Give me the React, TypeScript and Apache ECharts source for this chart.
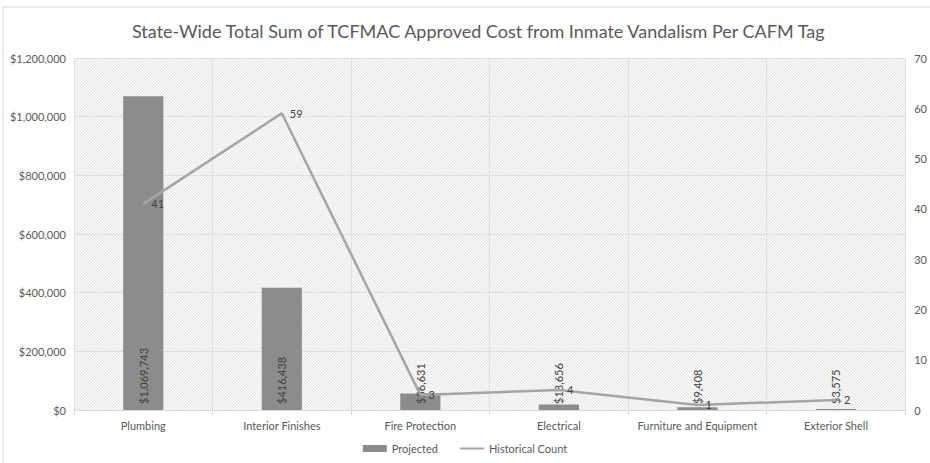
import React, { useEffect, useRef } from "react";
import * as echarts from "echarts";

const categories = ["Plumbing", "Interior Finishes", "Fire Protection", "Electrical", "Furniture and Equipment", "Exterior Shell"];
const projected = [1069743, 416438, 56631, 18656, 9408, 3575];
const historicalCount = [41, 59, 3, 4, 1, 2];
const titleText = "State-Wide Total Sum of TCFMAC Approved Cost from Inmate Vandalism Per CAFM Tag";

const FONT = "Lato, 'Open Sans', sans-serif";

function makePattern(): HTMLCanvasElement {
  const c = document.createElement("canvas");
  c.width = 6;
  c.height = 6;
  const ctx = c.getContext("2d")!;
  ctx.fillStyle = "#f8f8f8";
  ctx.fillRect(0, 0, 6, 6);
  ctx.strokeStyle = "#e4e4e4";
  ctx.lineWidth = 1;
  ctx.beginPath();
  for (let k = -6; k <= 12; k += 3) {
    ctx.moveTo(k, 0);
    ctx.lineTo(k + 6, 6);
  }
  ctx.stroke();
  return c;
}

const fmtMoney = (v: number) => "$" + Math.round(v).toLocaleString("en-US");

const lineIcon =
  "path://M0,0L0.01,0L0.01,0.01Z M0,2.5L24,2.5L24,4.5L0,4.5Z M23.99,7L24,7L24,6.99Z";

export default function App() {
  const ref = useRef<HTMLDivElement>(null);
  useEffect(() => {
    document.body.style.margin = "0";
    if (!ref.current) return;
    const chart = echarts.init(ref.current, null, { renderer: "svg" });
    let bg: any = "#f0f0f0";
    try {
      bg = { image: makePattern(), repeat: "repeat" };
    } catch (e) {
      bg = "#f0f0f0";
    }
    chart.setOption({
      animation: false,
      backgroundColor: "#ffffff",
      title: {
        text: titleText,
        left: 127,
        top: 17,
        textStyle: { fontFamily: FONT, fontSize: 18, fontWeight: "normal", color: "#595959" },
      },
      graphic: [
        {
          type: "rect",
          shape: { x: 3, y: 7, width: 940, height: 470 },
          style: { fill: "none", stroke: "#d9d9d9", lineWidth: 1 },
          silent: true,
          z: -1,
        },
      ],
      grid: {
        left: 74,
        right: 18,
        top: 58,
        bottom: 53,
        show: true,
        backgroundColor: bg,
        borderWidth: 0,
      },
      legend: {
        bottom: 4,
        left: "center",
        itemGap: 22,
        itemWidth: 24,
        itemHeight: 7,
        textStyle: { fontFamily: FONT, fontSize: 11, color: "#595959" },
        data: [
          { name: "Projected", icon: "rect" },
          { name: "Historical Count", icon: lineIcon },
        ],
      },
      xAxis: {
        type: "category",
        data: categories,
        axisLine: { lineStyle: { color: "#d9d9d9", width: 1 } },
        axisTick: { show: true, length: 5, lineStyle: { color: "#d9d9d9" } },
        axisLabel: { interval: 0, fontFamily: FONT, fontSize: 11, color: "#595959", margin: 10 },
        splitLine: { show: true, interval: 0, lineStyle: { color: "#e0e0e0", width: 1 } },
      },
      yAxis: [
        {
          type: "value",
          min: 0,
          max: 1200000,
          interval: 200000,
          axisLine: { show: false },
          axisTick: { show: false },
          axisLabel: { fontFamily: FONT, fontSize: 11, color: "#595959", margin: 8, formatter: (v: number) => fmtMoney(v) },
          splitLine: { show: true, lineStyle: { color: "#e0e0e0", width: 1 } },
        },
        {
          type: "value",
          min: 0,
          max: 70,
          interval: 10,
          axisLine: { show: false },
          axisTick: { show: false },
          axisLabel: { fontFamily: FONT, fontSize: 11, color: "#595959", margin: 9 },
          splitLine: { show: false },
        },
      ],
      series: [
        {
          name: "Projected",
          type: "bar",
          data: projected,
          barWidth: "29%",
          itemStyle: { color: "#8c8c8c" },
          label: {
            show: true,
            position: "insideBottom",
            rotate: 90,
            align: "left",
            verticalAlign: "middle",
            distance: 6,
            fontFamily: FONT,
            fontSize: 11,
            color: "#404040",
            formatter: (p: any) => fmtMoney(p.value),
          },
        },
        {
          name: "Historical Count",
          type: "line",
          yAxisIndex: 1,
          data: historicalCount,
          symbol: "circle",
          symbolSize: 0.1,
          showSymbol: true,
          lineStyle: { color: "#a5a5a5", width: 2.5 },
          itemStyle: { color: "#a5a5a5" },
          labelLayout: { hideOverlap: false },
          label: {
            show: true,
            position: "right",
            distance: 8,
            fontFamily: FONT,
            fontSize: 11,
            color: "#404040",
          },
        },
      ],
    });
    return () => chart.dispose();
  }, []);
  return <div ref={ref} style={{ width: 930, height: 463 }} />;
}
